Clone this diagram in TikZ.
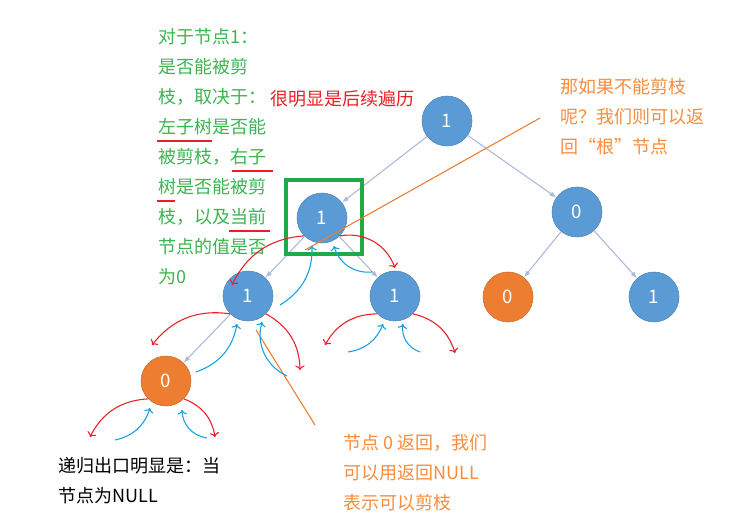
\documentclass[tikz,border=0pt]{standalone}
\usepackage{fontspec}
\setmainfont{Noto Sans CJK SC}
\usetikzlibrary{arrows.meta}
\definecolor{nodeblue}{RGB}{91,155,213}
\definecolor{nodeorange}{RGB}{237,125,49}
\definecolor{edgegray}{RGB}{170,185,220}
\definecolor{textgreen}{RGB}{60,180,80}
\definecolor{textorange}{RGB}{250,140,60}
\definecolor{inkred}{RGB}{235,30,40}
\definecolor{inkblue}{RGB}{20,160,225}
\definecolor{boxgreen}{RGB}{30,170,70}
\tikzset{
  tnode/.style={circle,minimum size=37.5pt,inner sep=0pt,fill=nodeblue,
    draw=nodeblue!85!black,text=white,font=\fontsize{14}{14}\selectfont},
  onode/.style={tnode,fill=nodeorange,draw=nodeorange!85!black},
  tedge/.style={-{Latex[length=5pt]},edgegray,thick},
  note/.style={anchor=north west,inner sep=0pt,font=\fontsize{13.5}{22.5}\selectfont,align=left},
  goes/.style={->,inkred,thick},
  back/.style={->,inkblue,thick},
}
\begin{document}
\begin{tikzpicture}[x=0.75pt,y=-0.75pt]
  \useasboundingbox[fill=white] (0,0) rectangle (755,530);

  % Tree nodes
  \node[tnode] (root) at (447,121) {1};
  \node[tnode] (a) at (322,218) {1};
  \node[tnode] (b) at (577,212) {0};
  \node[tnode] (c) at (248,296) {1};
  \node[tnode] (d) at (395,296) {1};
  \node[onode] (e) at (508,297) {0};
  \node[tnode] (f) at (654,297) {1};
  \node[onode] (g) at (166,381) {0};

  % Tree edges
  \draw[tedge] (root) -- (a);
  \draw[tedge] (root) -- (b);
  \draw[tedge] (a) -- (c);
  \draw[tedge] (a) -- (d);
  \draw[tedge] (b) -- (e);
  \draw[tedge] (b) -- (f);
  \draw[tedge] (c) -- (g);

  % Current node box
  \draw[boxgreen,line width=2.5pt] (286,180) rectangle (362,254);

  % Texts
  \node[note,text=textgreen] (rule) at (158,28) {对于节点1：\\是否能被剪\\枝，取决于：\\左子树是否能\\被剪枝，右子\\树是否能被剪\\枝，以及当前\\节点的值是否\\为0};
  \node[note,text=inkred] (post) at (270,90) {很明显是后续遍历};
  \node[note,text=textorange] (rootnote) at (560,78) {那如果不能剪枝\\呢？我们则可以返\\回“根”节点};
  \node[note,text=textorange] (nullnote) at (343,434) {节点 0 返回，我们\\可以用返回NULL\\表示可以剪枝};
  \node[note,text=black] (exit) at (58,457) {递归出口明显是：当\\节点为NULL};

  % Underlines
  \draw[inkred,thick] (157,141) -- (212,141);
  \draw[inkred,thick] (232,171) -- (273,171);
  \draw[inkred,thick] (157,201) -- (175,201);
  \draw[inkred,thick] (229,231) -- (270,231);

  % Pointer lines
  \coordinate (p1) at (540,118);
  \coordinate (p2) at (315,425);
  \draw[nodeorange,thick] (305,250) -- (p1);
  \draw[nodeorange,thick] (256,330) -- (p2);

  % Recursion strokes
  \draw[goes] (a.south east) to[bend left=40] (395,268);
  \draw[goes] (a.south west) to[bend right=30] (232,285);
  \draw[back] (280,305) to[bend right=30] (312,246);
  \draw[back] (372,272) to[bend left=40] (334,246);

  \draw[goes] (c.south west) to[bend right=30] (152,345);
  \draw[goes] (c.south east) to[bend left=30] (300,370);
  \draw[back] (196,372) to[bend right=30] (237,324);
  \draw[back] (287,376) to[bend left=40] (262,322);

  \draw[goes] (d.south west) to[bend right=30] (325,345);
  \draw[goes] (d.south east) to[bend left=30] (455,353);
  \draw[back] (348,352) to[bend right=30] (383,324);
  \draw[back] (420,352) to[bend left=40] (403,324);

  \draw[goes] (g.south west) to[bend right=30] (90,437);
  \draw[goes] (g.south east) to[bend left=30] (215,437);
  \draw[back] (115,440) to[bend right=30] (150,408);
  \draw[back] (207,438) to[bend left=40] (182,410);
\end{tikzpicture}
\end{document}
